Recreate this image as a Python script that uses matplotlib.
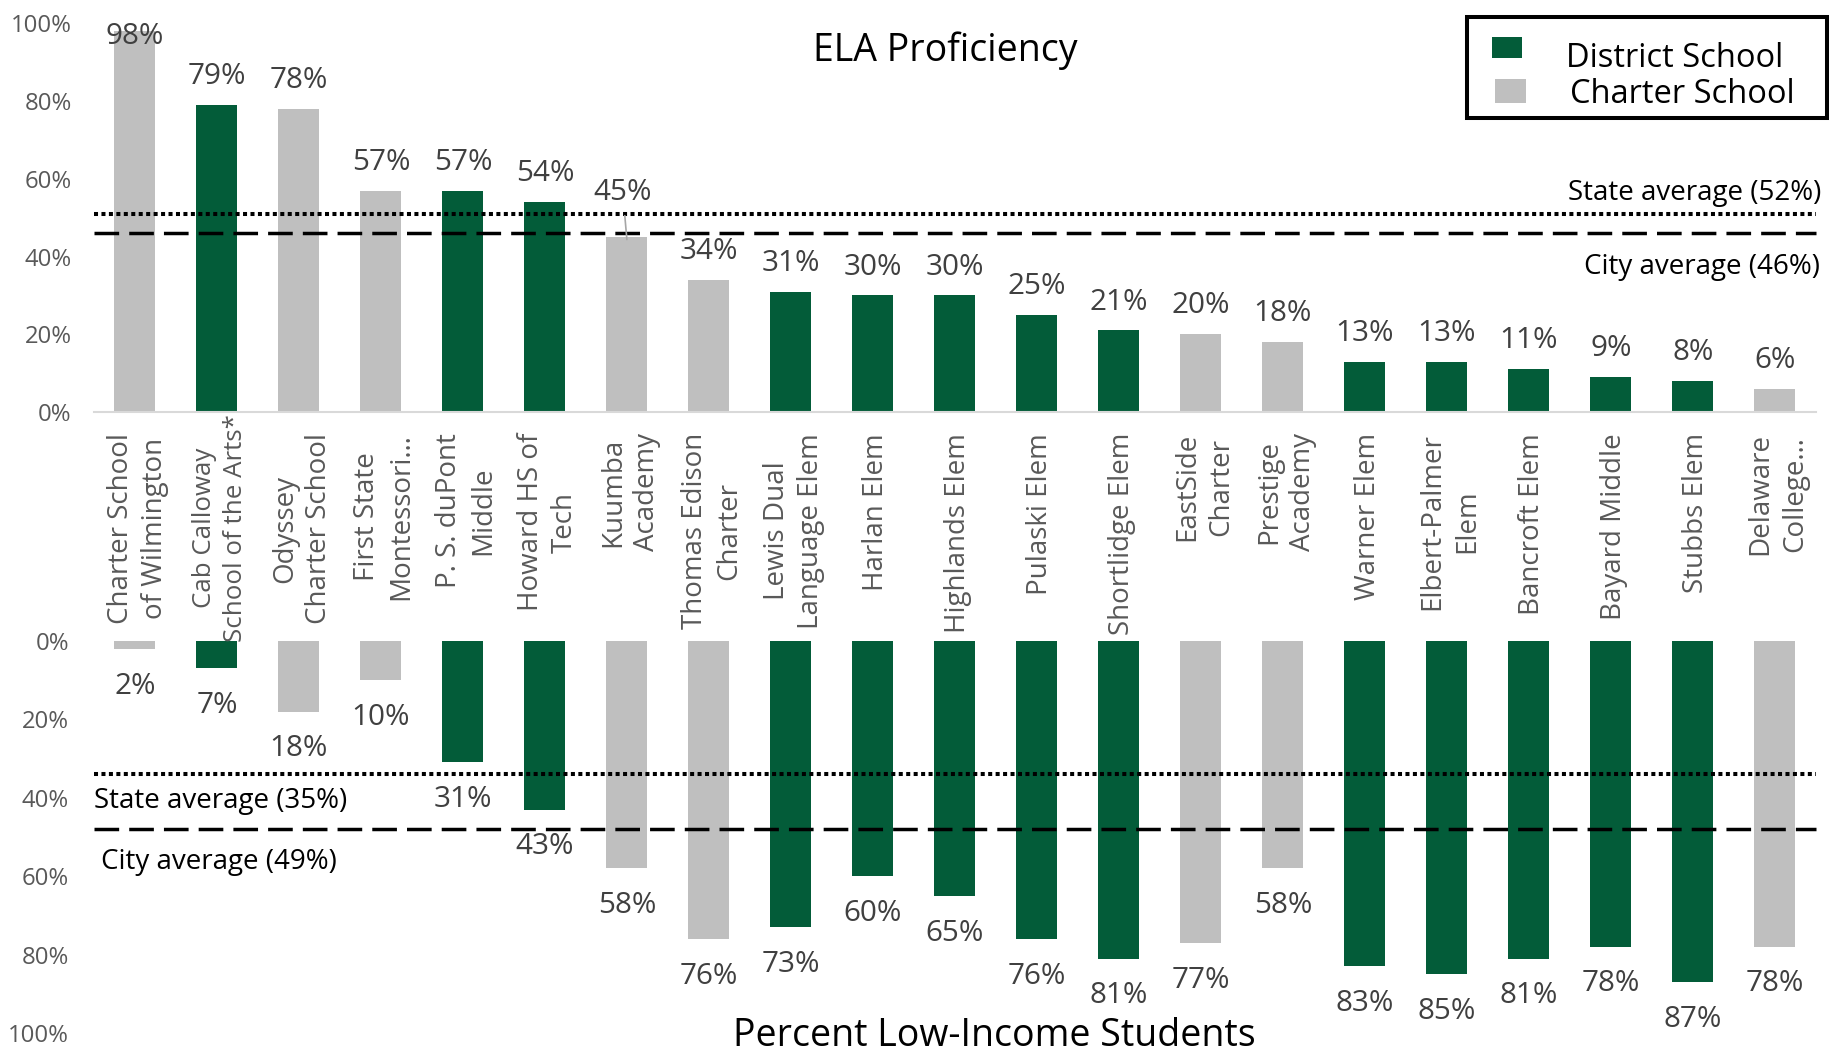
import numpy as np
import matplotlib.pyplot as plt
from matplotlib.transforms import blended_transform_factory

plt.rcParams['font.family'] = ['Open Sans', 'DejaVu Sans']

schools = ["Charter School\nof Wilmington", "Cab Calloway\nSchool of the Arts*", "Odyssey\nCharter School",
           "First State\nMontessori\u2026", "P. S. duPont\nMiddle", "Howard HS of\nTech", "Kuumba\nAcademy",
           "Thomas Edison\nCharter", "Lewis Dual\nLanguage Elem", "Harlan Elem", "Highlands Elem",
           "Pulaski Elem", "Shortlidge Elem", "EastSide\nCharter", "Prestige\nAcademy", "Warner Elem",
           "Elbert-Palmer\nElem", "Bancroft Elem", "Bayard Middle", "Stubbs Elem", "Delaware\nCollege\u2026"]
# D = district school, C = charter school
school_type = ['C', 'D', 'C', 'C', 'D', 'D', 'C', 'C', 'D', 'D', 'D',
               'D', 'D', 'C', 'C', 'D', 'D', 'D', 'D', 'D', 'C']
ela = [98, 79, 78, 57, 57, 54, 45, 34, 31, 30, 30, 25, 21, 20, 18, 13, 13, 11, 9, 8, 6]
low_income = [2, 7, 18, 10, 31, 43, 58, 76, 73, 60, 65, 76, 81, 77, 58, 83, 85, 81, 78, 87, 78]

# averages as written in the notes, and where the lines sit in the picture
state_ela, city_ela = 52, 46
state_ela_line, city_ela_line = 51, 46
state_li, city_li = 35, 49
state_li_line, city_li_line = 34, 48

GREEN = '#035C39'
GREY = '#BFBFBF'
colors = [GREEN if t == 'D' else GREY for t in school_type]
x = np.arange(len(schools))
ticks = [0, 20, 40, 60, 80, 100]

W, H = 1845, 1053
def fx(px):
    return px / W
def fy(py):
    return 1 - py / H

fig = plt.figure(figsize=(18.45, 10.53), dpi=100)
ax1 = fig.add_axes([0.0509, 0.6087, 0.9333, 0.369])
ax2 = fig.add_axes([0.0509, 0.019, 0.9333, 0.3723])
ax1.set_zorder(2)   # school names sit on top of the lower bars
ax1.patch.set_visible(False)
ax2.set_zorder(1)

dotted = dict(color='black', lw=2.9, linestyle=(0, (1, 0.85)), dash_capstyle='butt', clip_on=False)
dashed = dict(color='black', lw=2.5, linestyle=(0, (7.1, 2.9)), dash_capstyle='butt', clip_on=False)

# ---- top: ELA proficiency
ax1.bar(x, ela, width=0.5, color=colors)
ax1.set_xlim(-0.5, len(x) - 0.5)
ax1.set_ylim(0, 100)
for s in ['top', 'right', 'left']:
    ax1.spines[s].set_visible(False)
ax1.spines['bottom'].set_color('#D9D9D9')
ax1.spines['bottom'].set_linewidth(1.5)
ax1.set_yticks(ticks)
ax1.set_yticklabels([f'{t}%' for t in ticks])
ax1.tick_params(axis='y', length=0, pad=16, labelsize=17.2, labelcolor='#595959')
ax1.set_xticks([])

# school names hang below the axis (the long Cab Calloway one sits higher and smaller, as in the original)
name_trans = blended_transform_factory(ax1.transData, ax1.transAxes)
for i, name in enumerate(schools):
    top, size = (-0.005, 18.6) if i == 1 else (-0.054, 20)
    ax1.text(i + 0.037, top, name, transform=name_trans, rotation=90, ha='center', va='top',
             multialignment='center', linespacing=1.3, fontsize=size, color='#595959', clip_on=False)

for i, v in enumerate(ela):
    if i == 6:
        ax1.annotate(f'{v}%', xy=(i, v - 0.6), xytext=(i - 0.05, v + 11.4), ha='center', va='center',
                     fontsize=21.3, color='#404040',
                     arrowprops=dict(arrowstyle='-', color='#A6A6A6', lw=1.2, shrinkA=4, shrinkB=0))
    else:
        ax1.text(i, min(v + 7.3, 96.6), f'{v}%', ha='center', va='center', fontsize=21.3, color='#404040')

ax1.axhline(state_ela_line, **dotted)
ax1.axhline(city_ela_line, **dashed)
ax1.text(20.57, 56.4, f'State average ({state_ela}%)', ha='right', va='center', fontsize=20, color='black')
ax1.text(20.55, 37.3, f'City average ({city_ela}%)', ha='right', va='center', fontsize=20, color='black')

# ---- bottom: low-income share
ax2.bar(x, low_income, width=0.5, color=colors)
ax2.set_xlim(-0.5, len(x) - 0.5)
ax2.set_ylim(100, 0)
for s in ax2.spines.values():
    s.set_visible(False)
ax2.set_xticks([])
ax2.set_yticks(ticks)
ax2.set_yticklabels([f'{t}%' for t in ticks])
ax2.tick_params(axis='y', length=0, pad=18, labelsize=17.2, labelcolor='#595959')

for i, v in enumerate(low_income):
    ax2.text(i, v + 9.5, f'{v}%', ha='center', va='center', fontsize=21.3, color='#404040')

ax2.axhline(state_li_line, **dotted)
ax2.axhline(city_li_line, **dashed)
ax2.text(-0.5, 40.8, f'State average ({state_li}%)', ha='left', va='center', fontsize=20, color='black')
ax2.text(-0.41, 56.4, f'City average ({city_li}%)', ha='left', va='center', fontsize=20, color='black')

# ---- titles
fig.text(fx(945), fy(51), 'ELA Proficiency', ha='center', va='center', fontsize=27, color='black')
fig.text(fx(994), fy(1036), 'Percent Low-Income Students', ha='center', va='center',
         fontsize=27, color='black')

# ---- legend box, drawn by hand to follow the original's spacing
fig.add_artist(plt.Rectangle((fx(1467), fy(118)), fx(1827) - fx(1467), fy(17) - fy(118),
                             transform=fig.transFigure, facecolor='white', edgecolor='black', lw=2.9))
fig.add_artist(plt.Rectangle((fx(1492), fy(58)), fx(30), fy(37) - fy(58),
                             transform=fig.transFigure, color=GREEN, lw=0))
fig.add_artist(plt.Rectangle((fx(1495), fy(103)), fx(31), fy(79) - fy(103),
                             transform=fig.transFigure, color=GREY, lw=0))
fig.text(fx(1566), fy(67), 'District School', ha='left', va='baseline', fontsize=23.5, color='black')
fig.text(fx(1570), fy(103), 'Charter School', ha='left', va='baseline', fontsize=23.5, color='black')

fig.savefig('out.png', dpi=100)
